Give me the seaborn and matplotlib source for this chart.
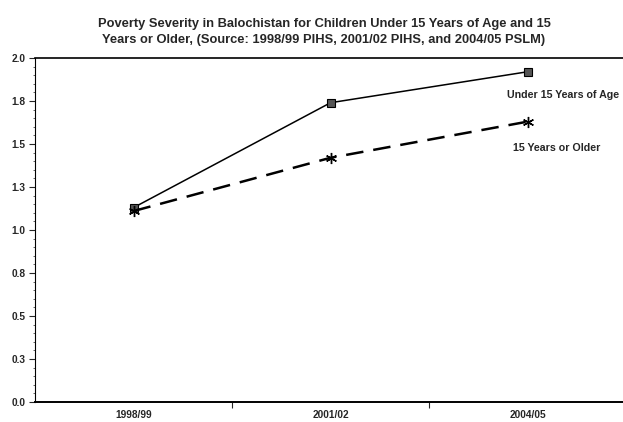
import matplotlib
matplotlib.use("Agg")
import matplotlib.pyplot as plt
import seaborn as sns
import pandas as pd
from matplotlib.ticker import MultipleLocator

years = ["1998/99", "2001/02", "2004/05"]
under15 = [1.13, 1.74, 1.92]
older15 = [1.11, 1.42, 1.63]
ytick_vals = [0.0, 0.25, 0.5, 0.75, 1.0, 1.25, 1.5, 1.75, 2.0]
ytick_labels = ["0.0", "0.3", "0.5", "0.8", "1.0", "1.3", "1.5", "1.8", "2.0"]
title = ("Poverty Severity in Balochistan for Children Under 15 Years of Age and 15\n"
         "Years or Older, (Source: 1998/99 PIHS, 2001/02 PIHS, and 2004/05 PSLM)")
label_under = "Under 15 Years of Age"
label_older = "15 Years or Older"

sns.set_style("white")
plt.rcParams["font.family"] = ["Liberation Sans", "DejaVu Sans"]
plt.rcParams["font.weight"] = "bold"

df = pd.DataFrame({"pos": list(range(len(years))), "year": years,
                   "under": under15, "older": older15})

fig = plt.figure(figsize=(6.23, 4.22), dpi=100)
ax = fig.add_axes([35 / 623, 1 - 402 / 422, 1 - 35 / 623 + 0.005, (402 - 58) / 422])

sns.lineplot(data=df, x="pos", y="under", ax=ax, color="black", lw=1.1,
             marker="s", markersize=6, markerfacecolor="#555555",
             markeredgecolor="black", markeredgewidth=0.8)
sns.lineplot(data=df, x="pos", y="older", ax=ax, color="black", lw=1.8,
             dashes=False, marker=(6, 2, 0), markersize=8,
             markeredgecolor="black", markeredgewidth=1.0)
ax.lines[-1].set_dashes([7, 4])

ax.set_xlim(-0.5, 2.5)
ax.set_ylim(0, 2.0)
ax.set_yticks(ytick_vals)
ax.set_yticklabels(ytick_labels, fontsize=7.3, fontweight="bold")
ax.yaxis.set_minor_locator(MultipleLocator(0.05))
ax.tick_params(axis="y", which="major", length=4, width=0.8, direction="out", left=True, pad=3)
ax.tick_params(axis="y", which="minor", length=1.5, width=0.5, direction="out", left=True)

ax.set_xticks(range(len(years)))
ax.set_xticklabels(years, fontsize=7.3, fontweight="bold")
ax.set_xticks([0.5, 1.5], minor=True)
ax.tick_params(axis="x", which="major", length=0, pad=6)
ax.tick_params(axis="x", which="minor", length=4, width=0.8, direction="out", bottom=True)

ax.set_xlabel("")
ax.set_ylabel("")
for side in ["left", "bottom", "top"]:
    ax.spines[side].set_visible(True)
    ax.spines[side].set_color("black")
ax.spines["left"].set_linewidth(0.8)
ax.spines["bottom"].set_linewidth(1.4)
ax.spines["top"].set_linewidth(1.2)
ax.spines["right"].set_visible(False)

ax.text(1.895, 1.785, label_under, fontsize=7.7, fontweight="bold", ha="left", va="center")
ax.text(1.925, 1.477, label_older, fontsize=7.7, fontweight="bold", ha="left", va="center")

fig.text(0.52, 1 - 32 / 422, title, ha="center", va="center", fontsize=9.3,
         fontweight="bold", linespacing=1.35)

fig.savefig("out.png", dpi=100)
